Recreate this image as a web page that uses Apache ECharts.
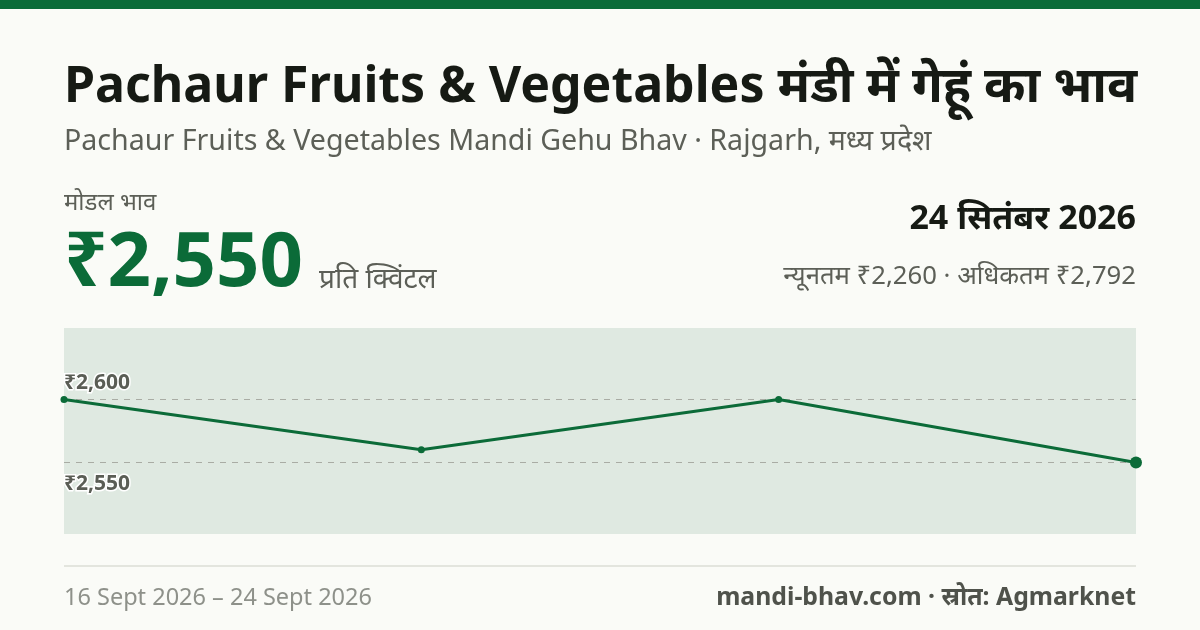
<!DOCTYPE html>
<html><head><meta charset="utf-8">
<script src="https://cdn.jsdelivr.net/npm/echarts@6/dist/echarts.min.js"></script>
<style>html,body{margin:0;padding:0;background:#fafbf7;}#c{width:1200px;height:630px;}</style>
</head><body><div id="c"></div>
<script>
const dates = ['16 Sept 2026', '19 Sept 2026', '22 Sept 2026', '24 Sept 2026'];
const modalPrices = [2600, 2560, 2600, 2550];
const tickValues = [2600, 2550];
const tickLabels = ['₹2,600', '₹2,550'];
const yMin = 2493, yMax = 2657;

const F = '"Noto Sans", "Noto Sans Devanagari", sans-serif';
const green = '#0b6b38';
const chart = echarts.init(document.getElementById('c'), null, {renderer: 'canvas'});

const seriesData = modalPrices.map((v, i) => ({
  value: v,
  symbolSize: i === modalPrices.length - 1 ? 12 : 7
}));

const markData = tickValues.map((v, i) => ({
  yAxis: v,
  label: {
    formatter: tickLabels[i],
    position: i === 0 ? 'insideStartTop' : 'insideStartBottom',
    distance: i === 0 ? [0, 6] : [0, 11]
  }
}));

function txt(text, x, y, size, weight, color, align) {
  return {
    type: 'text', x: x, y: y, silent: true,
    style: {text: text, font: weight + ' ' + size + 'px ' + F, fill: color,
            textAlign: align || 'left', textVerticalAlign: 'middle'}
  };
}

chart.setOption({
  backgroundColor: '#fafbf7',
  animation: false,
  grid: {left: 64, right: 64, top: 328, height: 206, show: true,
         backgroundColor: '#dfe9e1', borderWidth: 0},
  xAxis: {type: 'category', data: dates, boundaryGap: false, show: false},
  yAxis: {type: 'value', min: yMin, max: yMax, show: false, splitLine: {show: false}},
  series: [{
    type: 'line', data: seriesData, symbol: 'circle',
    lineStyle: {color: green, width: 3}, itemStyle: {color: green},
    z: 5,
    markLine: {
      silent: true, symbol: 'none',
      lineStyle: {color: '#a9aca4', type: [6, 6], width: 1},
      label: {color: '#5a5d55', fontFamily: F, fontWeight: 'bold', fontSize: 21,
              textBorderColor: '#ffffff', textBorderWidth: 3},
      data: markData
    }
  }],
  graphic: [
    {type: 'rect', shape: {x: 0, y: 0, width: 1200, height: 9}, style: {fill: '#0a6b38'}, silent: true},
    txt('Pachaur Fruits & Vegetables मंडी में गेहूं का भाव', 64, 88, 50, 'bold', '#161a14'),
    txt('Pachaur Fruits & Vegetables Mandi Gehu Bhav · Rajgarh, मध्य प्रदेश', 64, 142, 28.6, 'normal', '#5c5f57'),
    txt('मोडल भाव', 64, 203, 24, 'normal', '#5c5f57'),
    txt('₹2,550', 64, 264, 76, 'bold', green),
    txt('प्रति क्विंटल', 319, 280, 28, 'normal', '#5c5f57'),
    txt('24 सितंबर 2026', 1136, 219, 34, 'bold', '#161a14', 'right'),
    txt('न्यूनतम ₹2,260 · अधिकतम ₹2,792', 1136, 277, 25.7, 'normal', '#5c5f57', 'right'),
    {type: 'rect', shape: {x: 64, y: 565, width: 1072, height: 2}, style: {fill: '#e3e5de'}, silent: true},
    txt('16 Sept 2026 – 24 Sept 2026', 64, 598, 23.5, 'normal', '#8e918a'),
    txt('mandi-bhav.com · स्रोत: Agmarknet', 1136, 598, 24.8, 'bold', '#4f524b', 'right')
  ]
});
</script></body></html>
